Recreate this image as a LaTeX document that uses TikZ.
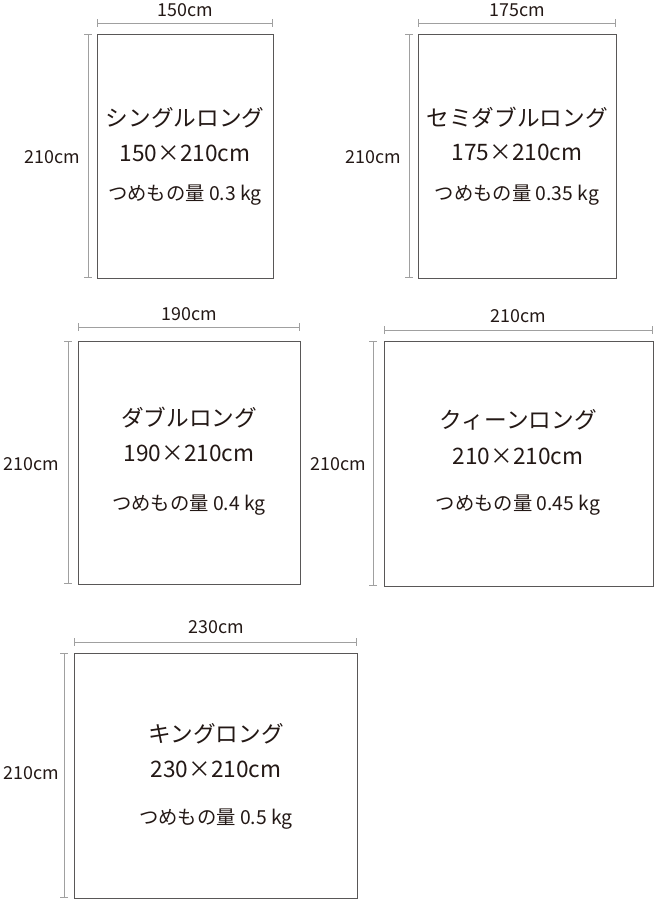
\documentclass[tikz,border=0pt]{standalone}
\usepackage{fontspec}
\setmainfont{Noto Sans CJK JP}
\usetikzlibrary{positioning,arrows.meta}

\definecolor{ink}{HTML}{231815}
\definecolor{framegray}{HTML}{595757}
\definecolor{dimgray}{HTML}{A0A0A0}

\tikzset{
  futon/.style={draw=framegray, line width=0.7pt},
  dimline/.style={draw=dimgray, line width=0.6pt, {Bar[width=6pt]}-{Bar[width=6pt]}},
  sizelabel/.style={text=ink, inner sep=0pt, font=\fontsize{13.4}{16}\selectfont},
  futonname/.style={text=ink, inner sep=0pt, font=\fontsize{17}{20}\selectfont},
  futonsize/.style={text=ink, inner sep=0pt, font=\fontsize{17}{20}\selectfont},
  filling/.style={text=ink, inner sep=0pt, font=\fontsize{14.5}{17}\selectfont}
}

\begin{document}
\begin{tikzpicture}[x=0.75pt, y=-0.75pt]
\useasboundingbox (0,0) rectangle (654,899);

% single long
\draw[futon] (97,34) rectangle (273,278);
\draw[dimline] (97,23) -- (273,23);
\draw[dimline] (88,34) -- (88,278);
\node[sizelabel] (singlew) at (185,10) {150cm};
\node[sizelabel] (singleh) at (52,157) {210cm};
\node[futonname] (single) at (185,118) {シングルロング};
\node[futonsize] (singlesize) at (185,153) {150×210cm};
\node[filling] (singlefill) at (185,195) {つめもの量 0.3 kg};

% semi double long
\draw[futon] (418,34) rectangle (616,278);
\draw[dimline] (418,23) -- (616,23);
\draw[dimline] (409,34) -- (409,278);
\node[sizelabel] (semiw) at (517,10) {175cm};
\node[sizelabel] (semih) at (373,157) {210cm};
\node[futonname] (semi) at (517,118) {セミダブルロング};
\node[futonsize] (semisize) at (517,152) {175×210cm};
\node[filling] (semifill) at (517,195) {つめもの量 0.35 kg};

% double long
\draw[futon] (78,341) rectangle (300,584);
\draw[dimline] (78,327) -- (300,327);
\draw[dimline] (68,341) -- (68,584);
\node[sizelabel] (doublew) at (189,314) {190cm};
\node[sizelabel] (doubleh) at (31,464) {210cm};
\node[futonname] (double) at (189,418) {ダブルロング};
\node[futonsize] (doublesize) at (189,453) {190×210cm};
\node[filling] (doublefill) at (189,505) {つめもの量 0.4 kg};

% queen long
\draw[futon] (384,341) rectangle (653,586);
\draw[dimline] (384,330) -- (653,330);
\draw[dimline] (373,341) -- (373,586);
\node[sizelabel] (queenw) at (518,316) {210cm};
\node[sizelabel] (queenh) at (338,464) {210cm};
\node[futonname] (queen) at (518,420) {クィーンロング};
\node[futonsize] (queensize) at (518,456) {210×210cm};
\node[filling] (queenfill) at (518,505) {つめもの量 0.45 kg};

% king long
\draw[futon] (74,653) rectangle (357,898);
\draw[dimline] (74,642) -- (357,642);
\draw[dimline] (64,653) -- (64,898);
\node[sizelabel] (kingw) at (216,627) {230cm};
\node[sizelabel] (kingh) at (31,773) {210cm};
\node[futonname] (king) at (216,734) {キングロング};
\node[futonsize] (kingsize) at (216,769) {230×210cm};
\node[filling] (kingfill) at (216,819) {つめもの量 0.5 kg};

\end{tikzpicture}
\end{document}
